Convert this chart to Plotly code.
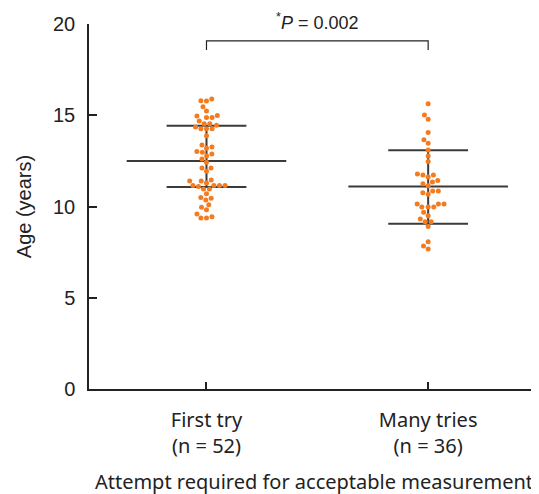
import numpy as np
import plotly.graph_objects as go

categories = ["First try", "Many tries"]
tick_labels = ["First try<br>(n = 52)", "Many tries<br>(n = 36)"]

first_try = [15.89, 15.80, 15.78, 15.47, 15.23, 14.98, 14.96, 14.87, 14.87, 14.68,
             14.54, 14.54, 14.45, 14.36, 14.26, 14.26, 14.26, 13.88, 13.37, 13.26,
             13.19, 13.02, 12.97, 12.88, 12.77, 12.60, 12.42, 12.11, 12.11, 11.93,
             11.45, 11.40, 11.40, 11.29, 11.15, 11.15, 11.15, 11.15, 11.09, 10.96,
             10.96, 10.70, 10.50, 10.45, 10.36, 10.10, 9.96, 9.82, 9.59, 9.44,
             9.37, 9.37]
many_tries = [15.63, 15.01, 14.78, 14.05, 13.66, 13.46, 13.10, 12.77, 12.46, 11.78,
              11.73, 11.73, 11.62, 11.43, 11.34, 11.25, 11.14, 10.85, 10.85, 10.76,
              10.67, 10.14, 10.14, 10.14, 9.97, 9.97, 9.97, 9.68, 9.50, 9.32,
              9.17, 9.17, 8.91, 8.07, 7.84, 7.67]

centre = [12.49, 11.09]
upper = [14.43, 13.08]
lower = [11.07, 9.06]

p_label = "<sup>*</sup><i>P</i> = 0.002"
y_title = "Age (years)"
x_title = "Attempt required for acceptable measurement"

# layout geometry (page body adds an 8px offset)
W, H = 539, 494
ML, MR, MT, MB = 81, 8, 16, 113
XR = [-0.53, 1.5]
YR = [0, 20]
px_per_x = (W - ML - MR) / (XR[1] - XR[0])
px_per_y = (H - MT - MB) / (YR[1] - YR[0])
DOT_D = 5.6  # px spacing of swarm


def swarm(values):
    vals = np.asarray(values, dtype=float)
    order = np.argsort(vals)
    placed = []
    xs = np.zeros(len(vals))
    for i in order:
        y = vals[i] * px_per_y
        cands = [0.0]
        for (px, py) in placed:
            dy = abs(py - y)
            if dy < DOT_D:
                dx = np.sqrt(DOT_D ** 2 - dy ** 2)
                cands += [px + dx, px - dx]
        cands.sort(key=lambda c: (abs(c), c))
        for c in cands:
            if all((c - px) ** 2 + (y - py) ** 2 >= DOT_D ** 2 - 1e-6 for px, py in placed):
                xs[i] = c
                placed.append((c, y))
                break
    return xs / px_per_x


fig = go.Figure()

MEAN_HALF = 0.36
SD_HALF = 0.18
line_col = "#3a3a3a"
for i, cat in enumerate(categories):
    fig.add_shape(type="line", x0=i, x1=i, y0=lower[i], y1=upper[i],
                  line=dict(color=line_col, width=2), layer="below")
    fig.add_shape(type="line", x0=i - MEAN_HALF, x1=i + MEAN_HALF, y0=centre[i], y1=centre[i],
                  line=dict(color=line_col, width=2), layer="below")
    for v in (upper[i], lower[i]):
        fig.add_shape(type="line", x0=i - SD_HALF, x1=i + SD_HALF, y0=v, y1=v,
                      line=dict(color=line_col, width=2), layer="below")

for i, vals in enumerate([first_try, many_tries]):
    offs = swarm(vals)
    fig.add_trace(go.Scatter(
        x=i + offs, y=vals, mode="markers",
        marker=dict(size=5, color="#F47C20", line=dict(width=0)),
        showlegend=False, cliponaxis=False, name=categories[i]))

# significance bracket
BR_Y, BR_LEG = 19.07, 18.58
fig.add_shape(type="path", path=f"M 0,{BR_LEG} L 0,{BR_Y} L 1,{BR_Y} L 1,{BR_LEG}",
              line=dict(color="#222", width=1.2))
fig.add_annotation(x=0.5, y=1.0, text=p_label, showarrow=False, xref="x", yref="paper",
                   font=dict(family="Liberation Sans, Arial", size=18, color="#222"),
                   yanchor="middle", yshift=3)

fig.update_layout(
    width=W, height=H,
    margin=dict(l=ML, r=MR, t=MT, b=MB),
    plot_bgcolor="white", paper_bgcolor="white",
    showlegend=False,
)
fig.update_xaxes(
    range=XR, tickvals=[0, 1], ticktext=tick_labels, automargin=False,
    showline=True, linecolor="#222", linewidth=1.5,
    ticks="inside", ticklen=7, tickcolor="#222", tickwidth=1.5,
    showgrid=False, zeroline=False,
    tickfont=dict(family="Noto Sans", size=20, color="#222"),
    ticklabelstandoff=12,
    title=dict(text=x_title, font=dict(family="Noto Sans", size=20, color="#222"), standoff=17),
)
fig.update_yaxes(
    range=YR, tickvals=[0, 5, 10, 15, 20], automargin=False,
    showline=True, linecolor="#222", linewidth=1.5,
    ticks="inside", ticklen=8, tickcolor="#222", tickwidth=1.5,
    showgrid=False, zeroline=False,
    tickfont=dict(family="Liberation Sans, Arial", size=20, color="#222"),
    ticklabelstandoff=8,
    title=dict(text=y_title, font=dict(family="Liberation Sans, Arial", size=20, color="#222"), standoff=16),
)

fig.write_html("out.html")
